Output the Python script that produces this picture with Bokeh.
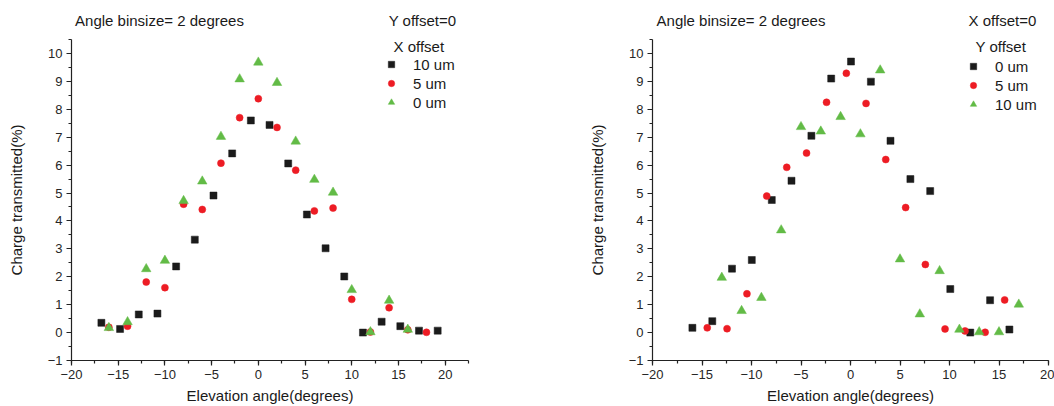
from bokeh.plotting import figure
from bokeh.models import SingleIntervalTicker, FixedTicker, Label, Range1d, LinearAxis
from bokeh.layouts import row
from bokeh.embed import file_html
from bokeh.resources import INLINE

# ---------------- data: left panel (Y offset = 0, X offset series) ----------------
left_x_10um = [-16.8, -14.8, -12.8, -10.8, -8.8, -6.8, -4.8, -2.8, -0.8, 1.2,
               3.2, 5.2, 7.2, 9.2, 11.2, 13.2, 15.2, 17.2, 19.2]
left_y_10um = [0.35, 0.13, 0.65, 0.68, 2.37, 3.33, 4.91, 6.42, 7.60, 7.44,
               6.06, 4.23, 3.02, 2.01, 0.0, 0.39, 0.23, 0.07, 0.07]
left_x_5um = [-16, -14, -12, -10, -8, -6, -4, -2, 0, 2, 4, 6, 8, 10, 12, 14, 16, 18]
left_y_5um = [0.19, 0.23, 1.81, 1.61, 4.60, 4.41, 6.07, 7.70, 8.38, 7.35,
              5.82, 4.36, 4.46, 1.19, 0.02, 0.89, 0.10, 0.01]
left_x_0um = [-16, -14, -12, -10, -8, -6, -4, -2, 0, 2, 4, 6, 8, 10, 12, 14, 16]
left_y_0um = [0.17, 0.38, 2.28, 2.58, 4.72, 5.42, 7.02, 9.08, 9.68, 8.95,
              6.85, 5.48, 5.02, 1.53, 0.02, 1.15, 0.11]

# ---------------- data: right panel (X offset = 0, Y offset series) ----------------
right_x_0um = [-15.97, -13.96, -11.97, -9.97, -7.95, -5.96, -3.95, -1.95, 0.05,
               2.06, 4.04, 6.05, 8.05, 10.08, 12.1, 14.1, 16.05]
right_y_0um = [0.17, 0.41, 2.29, 2.60, 4.75, 5.44, 7.05, 9.10, 9.71,
               8.99, 6.87, 5.50, 5.07, 1.56, 0.0, 1.16, 0.11]
right_x_5um = [-14.47, -12.47, -10.46, -8.46, -6.44, -4.44, -2.42, -0.42,
               1.57, 3.56, 5.57, 7.56, 9.55, 11.57, 13.6, 15.57]
right_y_5um = [0.17, 0.14, 1.39, 4.89, 5.92, 6.43, 8.25, 9.29,
               8.21, 6.20, 4.48, 2.44, 0.13, 0.06, 0.01, 1.17]
right_x_10um = [-13, -11, -9, -7, -5, -3, -1, 1, 3, 5, 7, 9, 11, 13, 15, 17]
right_y_10um = [1.97, 0.78, 1.25, 3.67, 7.37, 7.21, 7.73, 7.11,
                9.40, 2.63, 0.66, 2.21, 0.11, 0.02, 0.02, 1.01]

# ---------------- text ----------------
x_label = "Elevation angle(degrees)"
y_label = "Charge transmitted(%)"
top_left_text = "Angle binsize= 2 degrees"
left_offset_text = "Y offset=0"
right_offset_text = "X offset=0"
left_legend_title = "X offset"
right_legend_title = "Y offset"
left_names = ["10 um", "5 um", "0 um"]
right_names = ["0 um", "5 um", "10 um"]

BLACK = "#1b1b1b"
RED = "#ed1c24"
GREEN = "#62bb46"
TXT = "#1a1a1a"
FONT = "Liberation Sans"


def make_panel(width, border_left, border_right, x_end, series, names,
               legend_title, header_pos, header_texts, legend_x, legend_y):
    p = figure(width=width, height=406, title=None,
               x_range=Range1d(-20, x_end), y_range=Range1d(-1, 10.5),
               output_backend="svg", toolbar_location=None,
               min_border_left=border_left, min_border_right=border_right,
               min_border_top=39, min_border_bottom=46)
    p.outline_line_color = None
    p.xgrid.grid_line_color = None
    p.ygrid.grid_line_color = None
    p.background_fill_color = "white"

    p.xaxis.ticker = SingleIntervalTicker(interval=5, num_minor_ticks=2)
    p.yaxis.ticker = SingleIntervalTicker(interval=1, num_minor_ticks=2)
    for ax in (p.xaxis, p.yaxis):
        ax.axis_line_color = "#222222"
        ax.axis_line_width = 1.2
        ax.major_tick_line_color = "#222222"
        ax.minor_tick_line_color = "#222222"
        ax.major_tick_line_width = 1.2
        ax.minor_tick_line_width = 1.2
        ax.major_tick_out = 5
        ax.major_tick_in = 0
        ax.minor_tick_out = 3
        ax.minor_tick_in = 0
        ax.major_label_text_font = FONT
        ax.major_label_text_font_size = "13px"
        ax.major_label_text_color = "#262626"
        ax.major_label_standoff = 4
        ax.axis_label_text_font = FONT
        ax.axis_label_text_font_size = "15px"
        ax.axis_label_text_font_style = "normal"
        ax.axis_label_text_color = TXT
    p.xaxis.axis_label = x_label
    p.xaxis.axis_label_standoff = 5
    p.yaxis.axis_label = y_label
    p.yaxis.axis_label_standoff = 20

    # header texts drawn as the labels of an otherwise invisible top axis
    top = LinearAxis(ticker=FixedTicker(ticks=header_pos),
                     major_label_overrides=dict(zip(header_pos, header_texts)))
    top.axis_line_color = None
    top.major_tick_line_color = None
    top.minor_tick_line_color = None
    top.major_tick_out = 0
    top.major_tick_in = 0
    top.major_label_standoff = 11
    top.major_label_text_font = FONT
    top.major_label_text_font_size = "15px"
    top.major_label_text_color = TXT
    p.add_layout(top, "above")

    markers = [("square", BLACK, 7), ("circle", RED, 7), ("triangle", GREEN, 9.5)]
    for (xs, ys), name, (mk, col, sz) in zip(series, names, markers):
        p.scatter(xs, ys, marker=mk, size=sz, fill_color=col, line_color=col,
                  line_width=0.5, legend_label=name)

    lg = p.legend[0]
    lg.location = (legend_x, legend_y)
    lg.padding = 0
    lg.margin = 0
    lg.glyph_width = 16
    lg.glyph_height = 18
    lg.label_height = 18
    lg.spacing = 1
    lg.label_standoff = 14
    lg.border_line_color = None
    lg.background_fill_alpha = 0
    lg.label_text_font = FONT
    lg.label_text_font_size = "15px"
    lg.label_text_color = TXT

    p.add_layout(Label(x=legend_x + 10, y=314, x_units="screen", y_units="screen",
                       text=legend_title, text_font=FONT, text_font_size="15px",
                       text_color=TXT, text_baseline="middle", text_align="left"))
    return p


p1 = make_panel(530, 71, 62, 22.5,
                [(left_x_10um, left_y_10um), (left_x_5um, left_y_5um), (left_x_0um, left_y_0um)],
                left_names, left_legend_title, [-10.58, 17.58],
                [top_left_text, left_offset_text], 312, 249)
p2 = make_panel(524, 122, 6, 20,
                [(right_x_0um, right_y_0um), (right_x_5um, right_y_5um), (right_x_10um, right_y_10um)],
                right_names, right_legend_title, [-11.06, 15.35],
                [top_left_text, right_offset_text], 313, 247)

layout = row(p1, p2)
open("out.html", "w").write(file_html(layout, INLINE))
